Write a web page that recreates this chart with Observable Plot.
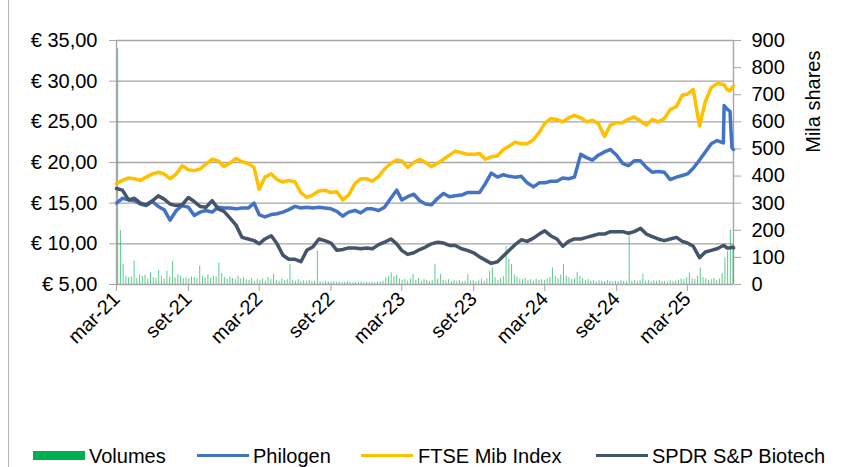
<!DOCTYPE html>
<html><head><meta charset="utf-8">
<script src="https://cdn.jsdelivr.net/npm/d3@7"></script>
<script src="https://cdn.jsdelivr.net/npm/@observablehq/plot@0.6"></script>
<style>
body{margin:0;background:#fff;font-family:"Liberation Sans",Arial,sans-serif;}
#wrap{position:relative;width:842px;height:467px;overflow:hidden;background:#fff;}
#border{position:absolute;left:8px;top:0;width:0;height:467px;border-left:1.5px solid #b4b4b4;}
#chart{position:absolute;left:0;top:0;}
.lg{position:absolute;font-size:20px;line-height:20px;color:#000;white-space:nowrap;}
.sw{position:absolute;}
</style></head><body>
<div id="wrap"><div id="border"></div><div id="chart"></div><div id="legend"></div></div>
<script>
// ---- categories: semi-monthly grid (1st and 16th) plus last days of June 2025
const gridDates = [];
for (let m = 0; m < 52; m++) {
  gridDates.push(new Date(Date.UTC(2021, 2 + m, 1)));
  if (m < 51) gridDates.push(new Date(Date.UTC(2021, 2 + m, 16)));
}
const endDates = ["2025-06-03","2025-06-10","2025-06-18","2025-06-23","2025-06-27"].map(d => new Date(d + "T00:00:00Z"));
const dates = gridDates.concat(endDates);

// ---- series values
const philogen = [
15.0,15.6,15.4,15.3,14.9,14.7,15.2,14.6,14.2,12.9,14.1,14.7,14.5,
13.5,13.9,14.1,13.9,14.5,14.4,14.4,14.3,14.4,14.4,15.0,13.6,13.3,
13.6,13.7,13.9,14.2,14.6,14.4,14.5,14.4,14.5,14.4,14.3,14.0,13.4,
13.9,14.1,13.8,14.3,14.3,14.1,14.5,15.6,16.6,15.4,15.8,16.1,15.3,
14.9,14.8,15.6,16.2,15.8,15.9,16.0,16.3,16.3,16.3,17.4,18.7,18.2,
18.5,18.3,18.2,18.3,17.5,17.0,17.5,17.5,17.7,17.7,18.1,18.0,18.2,
21.0,20.6,20.3,20.9,21.3,21.6,20.9,19.9,19.6,20.2,20.2,19.4,18.8,
18.9,18.8,17.9,18.2,18.4,18.6,19.3,20.3,21.3,22.3,22.7,22.4,
27.0,26.6,26.3,21.8,21.6];
const ftseMib = [
17.4,17.8,18.1,18.0,17.8,18.2,18.6,18.8,18.6,18.0,18.6,19.6,19.1,
19.0,19.2,19.8,20.4,20.2,19.5,19.9,20.5,20.1,19.9,19.4,16.7,18.2,
18.6,17.9,17.6,17.8,17.6,16.3,15.7,16.0,16.5,16.6,16.3,16.4,15.4,
16.0,17.4,18.0,18.0,17.7,18.3,19.2,19.9,20.3,20.2,19.4,20.0,20.4,
20.0,19.5,19.9,20.4,20.9,21.4,21.2,21.0,21.0,21.1,20.4,20.7,20.8,
21.6,22.0,22.5,22.3,22.3,22.8,23.7,24.8,25.4,25.3,25.0,25.5,25.8,
25.5,25.0,25.2,24.8,23.2,24.6,24.9,24.9,25.3,25.6,25.1,24.6,25.3,
25.0,25.4,26.5,26.9,28.3,28.4,29.0,24.5,27.5,29.2,29.7,29.6,
29.6,29.0,28.8,29.2,29.4];
const spdrBiotech = [
16.8,16.6,15.4,15.6,15.0,14.8,15.3,15.9,15.5,14.9,14.7,14.8,15.7,
15.2,14.6,14.5,15.3,14.3,14.0,13.2,12.3,10.8,10.6,10.4,10.0,10.6,
11.0,10.0,8.6,8.1,8.1,7.8,9.2,9.6,10.6,10.4,10.1,9.2,9.3,
9.5,9.5,9.4,9.5,9.4,9.9,10.2,10.6,10.0,9.2,8.7,8.9,9.3,
9.6,10.0,10.2,10.1,9.8,9.8,9.4,9.2,8.9,8.4,8.0,7.6,7.8,
8.5,9.2,9.9,10.5,10.3,10.7,11.2,11.6,11.0,10.6,9.7,10.3,10.6,
10.6,10.8,11.0,11.2,11.2,11.5,11.5,11.5,11.3,11.5,11.9,11.2,10.9,
10.6,10.4,10.6,10.8,10.3,10.1,9.7,8.3,9.0,9.2,9.4,9.8,
9.8,9.5,9.5,9.6,9.5];

// ---- weekly volumes (thousand shares), weeks starting 2021-03-04
const volStart = new Date(Date.UTC(2021, 2, 4));
const volumes = [
870,200,75,30,25,28,86,22,35,30,35,20,43,
25,22,52,30,20,49,28,84,25,37,30,22,25,
20,28,25,22,68,30,25,35,22,30,28,80,40,
25,20,28,22,18,31,20,25,18,15,22,12,18,
15,20,12,25,18,39,15,12,20,14,18,74,15,
12,18,10,14,12,15,10,12,123,10,8,12,9,
8,10,7,9,6,8,10,7,6,8,7,9,6,
8,7,9,6,8,10,12,25,30,43,28,35,20,
15,18,12,20,37,15,22,12,18,15,10,14,74,
20,37,15,12,18,10,14,12,15,10,12,37,12,
15,10,14,18,12,20,49,61,25,15,22,30,141,
92,74,35,28,20,18,22,15,18,12,20,15,18,
15,20,25,61,30,22,35,74,30,25,18,20,45,
30,22,15,18,12,15,10,14,12,10,15,12,10,
12,10,14,12,10,180,12,15,10,14,37,12,15,
10,14,12,15,10,12,8,14,10,12,15,20,18,
25,43,20,18,30,61,25,20,15,18,22,15,20,
40,98,123,200,148];

// ---- ticks / labels
const priceTicks = [5,10,15,20,25,30,35];
const volTicks = [0,100,200,300,400,500,600,700,800,900];
const xTicks = ["2021-03-01","2021-09-01","2022-03-01","2022-09-01","2023-03-01","2023-09-01","2024-03-01","2024-09-01","2025-03-01"].map(d => new Date(d + "T00:00:00Z"));
const monthNames = ["gen","feb","mar","apr","mag","giu","lug","ago","set","ott","nov","dic"];
const seriesNames = ["Volumes","Philogen","FTSE Mib Index","SPDR S&P Biotech"];
const colors = ["#00B050","#4472C4","#FFC000","#44546A"];

// ---- build tables
const volRows = volumes.map((v, i) => ({date: d3.utcDay.offset(volStart, 7 * i), v}));
const mk = arr => arr.map((v, i) => ({date: dates[i], value: v}));
const volToY = v => 5 + v * 30 / 900;
const xDomain = [new Date(Date.UTC(2021, 2, 1)), new Date(Date.UTC(2025, 5, 27))];
const grid = "#a6a6a6";

const chart = Plot.plot({
  width: 842, height: 430,
  marginLeft: 116, marginRight: 109, marginTop: 40, marginBottom: 146,
  x: {type: "utc", domain: xDomain},
  y: {domain: [5, 35]},
  style: {fontFamily: "'Liberation Sans', Arial, sans-serif", fontSize: "20px", color: "#000", background: "transparent", overflow: "visible"},
  marks: [
    Plot.ruleY(priceTicks.slice(1), {stroke: grid, strokeWidth: 1.4}),
    Plot.ruleX([xDomain[0], xDomain[1]], {y1: 5, y2: 35, stroke: grid, strokeWidth: 1.4}),
    Plot.ruleY([5], {stroke: grid, strokeWidth: 1.4}),
    Plot.ruleX(volRows, {x: "date", y1: 5, y2: d => volToY(d.v), stroke: colors[0], strokeWidth: 1, strokeOpacity: 0.65}),
    Plot.line(mk(philogen), {x: "date", y: "value", stroke: colors[1], strokeWidth: 3.5, strokeLinejoin: "round"}),
    Plot.line(mk(ftseMib), {x: "date", y: "value", stroke: colors[2], strokeWidth: 3.5, strokeLinejoin: "round"}),
    Plot.line(mk(spdrBiotech), {x: "date", y: "value", stroke: colors[3], strokeWidth: 3.5, strokeLinejoin: "round"}),
    Plot.axisY(priceTicks, {anchor: "left", tickSize: 7, tickPadding: 12, stroke: grid, fill: "#000",
      tickFormat: d => "€ " + d.toFixed(2).replace(".", ","), label: null}),
    Plot.axisY(volTicks.map(volToY), {anchor: "right", tickSize: 7, tickPadding: 11, stroke: grid, fill: "#000",
      tickFormat: d => String(Math.round((d - 5) * 30)), label: null}),
    Plot.axisX(xTicks, {tickSize: 7, tickRotate: -45, tickPadding: 4, stroke: grid, fill: "#000",
      tickFormat: d => monthNames[d.getUTCMonth()] + "-" + String(d.getUTCFullYear()).slice(2), label: null}),
    Plot.text(["Mila shares"], {frameAnchor: "top-right", dx: 72, dy: 10, rotate: -90, textAnchor: "end", fill: "#000", fontSize: 20})
  ]
});
document.getElementById("chart").appendChild(chart);

// ---- legend
const lg = document.getElementById("legend");
const items = [
  {sw: 33, tx: 89, kind: "box"},
  {sw: 197, tx: 253, kind: "line"},
  {sw: 361, tx: 418, kind: "line"},
  {sw: 596, tx: 652, kind: "line"}
];
items.forEach((it, i) => {
  const s = document.createElement("div");
  s.className = "sw";
  s.style.left = it.sw + "px";
  s.style.width = "52px";
  s.style.background = colors[i];
  if (it.kind === "box") { s.style.top = "451px"; s.style.height = "9px"; }
  else { s.style.top = "454px"; s.style.height = "3px"; }
  lg.appendChild(s);
  const t = document.createElement("div");
  t.className = "lg";
  t.style.left = it.tx + "px";
  t.style.top = "446px";
  t.textContent = seriesNames[i];
  lg.appendChild(t);
});
</script>
</body></html>
